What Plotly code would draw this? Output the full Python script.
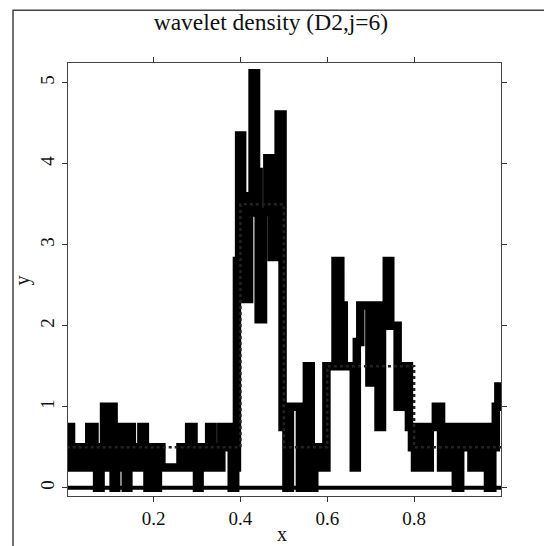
import plotly.graph_objects as go

# wavelet density estimate (step breakpoints and values)
est_x = [0.003, 0.010, 0.016, 0.030, 0.038, 0.046, 0.052, 0.064, 0.070, 0.078,
         0.086, 0.094, 0.100, 0.108, 0.114, 0.122, 0.128, 0.136, 0.142, 0.150,
         0.158, 0.166, 0.172, 0.180, 0.186, 0.194, 0.204, 0.210, 0.218, 0.262,
         0.276, 0.282, 0.292, 0.300, 0.306, 0.314, 0.320, 0.328, 0.336, 0.342,
         0.350, 0.356, 0.364, 0.372, 0.380, 0.388,
         0.392, 0.397, 0.404, 0.410, 0.420, 0.428, 0.436, 0.442, 0.452, 0.462,
         0.472, 0.480, 0.488, 0.497, 0.506,
         0.514, 0.537, 0.545, 0.553, 0.562, 0.570, 0.580, 0.588, 0.598,
         0.619, 0.630, 0.638, 0.661, 0.668, 0.676, 0.697, 0.703, 0.718, 0.726,
         0.737, 0.745, 0.762, 0.770, 0.788, 0.795, 0.802, 0.812, 0.828, 0.836,
         0.850, 0.862, 0.868, 0.880, 0.886, 0.896, 0.906, 0.916, 0.922, 0.932,
         0.940, 0.952, 0.958, 0.970, 0.980, 0.988, 0.994, 1.000]
est_y = [0.75, 0.25, 0.50, 0.25, 0.50, 0.25, 0.75, 0.50, 0.00, 0.25,
         1.00, 0.25, 1.00, 0.00, 0.75, 0.25, 0.75, 0.00, 0.75, 0.25,
         0.50, 0.25, 0.75, 0.50, 0.00, 0.50, 0.00, 0.50, 0.25, 0.50,
         0.25, 0.75, 0.50, 0.00, 0.50, 0.25, 0.50, 0.75, 0.25, 0.50,
         0.25, 0.75, 0.50, 0.75, 0.00, 0.25,
         2.80, 4.35, 3.60, 2.33, 3.40, 5.12, 3.90, 2.08, 3.40, 4.07,
         2.85, 3.30, 4.61, 0.75, 0.00,
         1.00, 0.00, 1.00, 1.50, 0.00, 0.25, 0.50, 0.25, 1.50,
         2.80, 2.25, 1.50, 0.25, 1.80, 2.25, 1.30, 2.25, 0.75, 2.00,
         2.80, 2.00, 1.00, 1.50, 0.75, 0.50, 0.25, 0.75, 0.25, 0.75,
         1.00, 0.25, 0.75, 0.25, 0.75, 0.00, 0.75, 0.50, 0.75, 0.25,
         0.75, 0.25, 0.75, 0.00, 0.50, 1.00, 1.25, 1.25]

# true density (piecewise constant)
true_x = [0.0, 0.4, 0.5, 0.6, 0.8, 1.0]
true_y = [0.5, 3.5, 0.5, 1.5, 0.5, 0.5]

# sample rug baseline
base_x = [0.0, 1.0]
base_y = [0.0, 0.0]

x_ticks = [0.2, 0.4, 0.6, 0.8]
y_ticks = [0, 1, 2, 3, 4, 5]

SERIF = "Liberation Serif, Times New Roman, serif"

fig = go.Figure()
fig.add_trace(go.Scatter(x=base_x, y=base_y, mode="lines",
                         line=dict(color="black", width=4), showlegend=False,
                         hoverinfo="skip"))
fig.add_trace(go.Scatter(x=est_x, y=est_y, mode="lines", line_shape="hv",
                         line=dict(color="black", width=8.5), showlegend=False))
fig.add_trace(go.Scatter(x=true_x, y=true_y, mode="lines", line_shape="hv",
                         line=dict(color="#222222", width=2.5, dash="dot"),
                         showlegend=False))

axis_common = dict(showgrid=False, zeroline=False, showline=True, linecolor="#444444",
                   linewidth=1, mirror="ticks", ticks="outside", ticklen=5,
                   tickcolor="#333333", tickwidth=1,
                   tickfont=dict(family=SERIF, size=19, color="#111111"))

fig.update_xaxes(range=[0.003, 1.0], tickvals=x_ticks,
                 ticktext=[str(v) for v in x_ticks], **axis_common)
fig.update_yaxes(range=[-0.102, 5.246], tickvals=y_ticks,
                 ticktext=[str(v) for v in y_ticks], tickangle=-90, **axis_common)

fig.update_layout(
    width=544, height=546,
    margin=dict(l=68, r=43, t=63, b=50),
    paper_bgcolor="white", plot_bgcolor="white",
    title=dict(text="wavelet density (D2,j=6)", x=0.498, xref="container",
               xanchor="center", y=1 - 22 / 546, yref="container", yanchor="middle",
               font=dict(family=SERIF, size=23.5, color="#111111")),
    annotations=[
        dict(text="x", x=0.495, y=-0.088, xref="paper", yref="paper",
             showarrow=False, font=dict(family=SERIF, size=20, color="#111111"),
             xanchor="center", yanchor="middle"),
        dict(text="y", x=-0.1055, y=0.4985, xref="paper", yref="paper",
             showarrow=False, textangle=-90,
             font=dict(family=SERIF, size=20, color="#111111"),
             xanchor="center", yanchor="middle"),
    ],
    shapes=[dict(type="rect", xref="paper", yref="paper", x0=-0.127, x1=1.3,
                 y0=-0.3, y1=1.1216, line=dict(color="#444444", width=1.5),
                 fillcolor="rgba(0,0,0,0)", layer="below")],
)

fig.write_html("out.html", config={"displayModeBar": False},
               post_script="document.body.style.margin='0';document.body.style.overflow='hidden';")
